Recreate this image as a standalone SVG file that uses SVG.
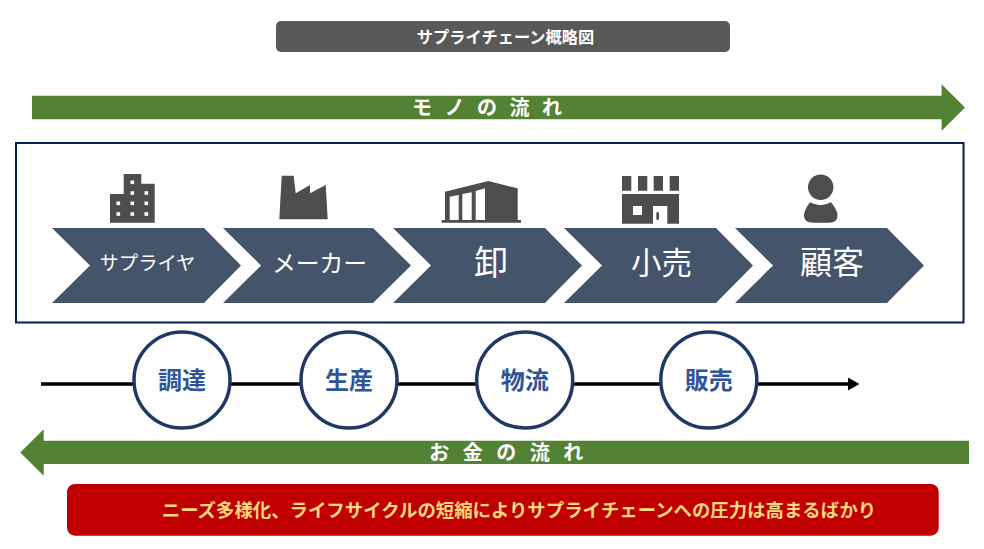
<svg xmlns="http://www.w3.org/2000/svg" width="984" height="549" viewBox="0 0 984 549">
<style>
text{font-family:"Noto Sans CJK JP","Noto Sans",sans-serif;text-anchor:middle}
.w{fill:#fff}.b{font-weight:700}
.chev{fill:#44546A}
.ico{fill:#4D4D4D}
.hole{fill:#fff}
.flow{fill:#548235}
.step{fill:#fff;stroke:#203864;stroke-width:3.5}
.stept{fill:#2F5597;font-weight:700;font-size:24px}
</style>
<defs>
<marker id="ah" markerUnits="userSpaceOnUse" markerWidth="12" markerHeight="13" refX="0" refY="6.5" orient="auto"><path d="M0,0L11.500,6.500L0,13Z" fill="#000"/></marker>
</defs>
<rect width="984" height="549" fill="#fff"/>
<g id="title"><rect x="276" y="21" width="454" height="31" rx="5" fill="#595959"/><text x="505.500" y="42.500" class="w b" font-size="16.200px">サプライチェーン概略図</text></g>
<g id="flow-goods"><path class="flow" d="M32,95.700H941.600V84.300L965,107.500L941.600,130.700V119.300H32Z"/><text x="489" y="115" class="w b" font-size="20px" letter-spacing="4">モ ノ の 流 れ</text></g>
<rect id="frame" x="16" y="143" width="947.500" height="179.500" fill="#fff" stroke="#0A1F52" stroke-width="2"/>
<g id="icon-supplier"><path class="ico" d="M123.700,174H141.300V183.700H154.700V222.700H110V194H123.700Z"/><g class="hole"><rect x="130.500" y="180.500" width="3.600" height="3.600"/><rect x="130.500" y="191.200" width="3.600" height="3.600"/><rect x="144.500" y="191.200" width="3.600" height="3.600"/><rect x="116.500" y="201.500" width="3.600" height="3.600"/><rect x="130.500" y="201.500" width="3.600" height="3.600"/><rect x="144.500" y="201.500" width="3.600" height="3.600"/><rect x="116.500" y="212.200" width="3.600" height="3.600"/><rect x="130.500" y="212.200" width="3.600" height="3.600"/><rect x="144.500" y="212.200" width="3.600" height="3.600"/></g></g>
<g id="icon-maker"><path class="ico" d="M281.700,175.700H293.700L295.700,193.300L310,185V193.300L325.700,185L327.700,219.300H279.300Z"/></g>
<g id="icon-wholesale"><path class="ico" d="M445,191.700L488.300,181L517.700,188.300V220H521V222.700H441.700V220H445Z"/><path class="hole" d="M449.700,196.700L458.700,195V220H449.700ZM462.300,194L471.700,192.300V220H462.300ZM475.700,191L485,188.300V220H475.700Z"/></g>
<g id="icon-retail"><path class="ico" d="M622,176h9.300v14.700h-9.300ZM638,176h9.300v14.700h-9.300ZM653.700,176h9.300v14.700h-9.300ZM669.700,176h9.300v14.700h-9.300ZM622,194H679V223.700H667.300V206H653V223.700H622Z"/><rect class="hole" x="633" y="206" width="9" height="9"/><rect class="ico" x="656.300" y="212.300" width="2.700" height="7.400"/></g>
<g id="icon-customer"><circle class="ico" cx="820.700" cy="187.300" r="12.700"/><path class="ico" d="M810,202.300Q820.700,208 831,202.300Q837.500,210 837.500,215.500Q837.500,222.700 829,222.700H813Q804,222.700 804,215.500Q804,210 810,202.300Z"/></g>
<g id="chev-supplier"><path class="chev" d="M52,228H204L241,265.500L204,303H52L90,265.500Z"/><text x="147.500" y="270" class="w" font-size="19.300px">サプライヤ</text></g>
<g id="chev-maker"><path class="chev" d="M223,228H373L411,265.500L373,303H223L261,265.500Z"/><text x="319.500" y="272" class="w" font-size="23.800px">メーカー</text></g>
<g id="chev-wholesale"><path class="chev" d="M393,228H545L582,265.500L545,303H393L431,265.500Z"/><text x="491" y="275" class="w" font-size="34px">卸</text></g>
<g id="chev-retail"><path class="chev" d="M564,228H716L753,265.500L716,303H564L602,265.500Z"/><text x="661.500" y="274" class="w" font-size="30.500px">小売</text></g>
<g id="chev-customer"><path class="chev" d="M735,228H887L924,265.500L887,303H735L773,265.500Z"/><text x="832" y="274" class="w" font-size="32px">顧客</text></g>
<g id="connectors"><path d="M41,384H848" stroke="#000" stroke-width="3.500" fill="none" marker-end="url(#ah)"/></g>
<g id="step-procure"><circle class="step" cx="182" cy="380" r="48"/><text x="182" y="388.500" class="stept">調達</text></g>
<g id="step-produce"><circle class="step" cx="349" cy="380" r="48"/><text x="349" y="388.500" class="stept">生産</text></g>
<g id="step-logistics"><circle class="step" cx="524.700" cy="380" r="48"/><text x="524.700" y="388.500" class="stept">物流</text></g>
<g id="step-sales"><circle class="step" cx="708.800" cy="380" r="48"/><text x="708.800" y="388.500" class="stept">販売</text></g>
<g id="flow-money"><path class="flow" d="M969,440.700H43.700V429.300L20.300,452.500L43.700,475.700V464H969Z"/><text x="508.500" y="460" class="w b" font-size="20px" letter-spacing="4.500">お 金 の 流 れ</text></g>
<g id="message"><rect x="67" y="484" width="871.700" height="51.700" rx="8" fill="#C00000"/><text x="519" y="517" class="b" fill="#FFD97F" font-size="18.400px">ニーズ多様化、ライフサイクルの短縮によりサプライチェーンへの圧力は高まるばかり</text></g>
</svg>
